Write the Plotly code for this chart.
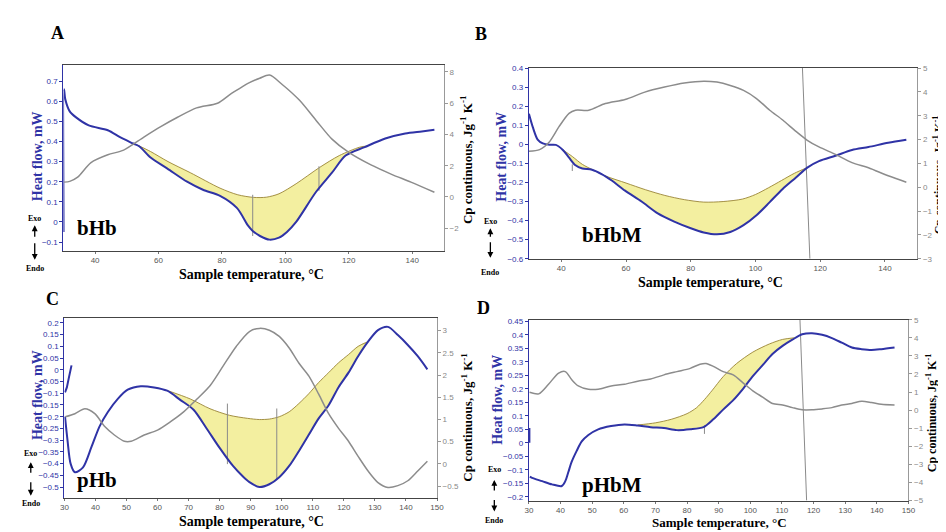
import plotly.graph_objects as go

W, H = 946, 532

# ---------------- A : bHb ----------------
a_temp = [30.05, 30.2, 30.6, 32, 34, 38, 44, 48, 52, 54, 57.5, 62.8, 69, 74, 79.4, 84.7, 88.3, 89.7, 92, 95,
          98, 100.5, 103.4, 109.7, 114.7, 119, 125, 131.5, 137.8, 143, 147]
a_heat = [-0.05, 0.66, 0.61, 0.55, 0.52, 0.48, 0.456, 0.42, 0.39, 0.375, 0.32, 0.265, 0.2, 0.16, 0.13, 0.07,
          -0.02, -0.045, -0.07, -0.088, -0.078, -0.05, 0.0, 0.15, 0.245, 0.33, 0.372, 0.415, 0.44, 0.45, 0.458]
a_cp_temp = [30.2, 32, 34.5, 38.7, 44, 49, 55.5, 60.7, 66, 72, 78.6, 82.8, 86, 88.5, 91.9, 95, 99, 104.4,
             109.7, 114.7, 120, 127, 133.5, 139.6, 147]
a_cp = [0.95, 1.0, 1.27, 2.2, 2.7, 3.0, 3.85, 4.5, 5.1, 5.7, 6.0, 6.6, 7.0, 7.3, 7.6, 7.8, 7.2, 6.2,
        4.9, 3.7, 2.85, 2.05, 1.45, 0.95, 0.3]
a_base_temp = [53, 57.5, 63, 70, 79.4, 85, 90, 94, 98, 103.4, 110.7, 117, 123.5, 126]
a_base_heat = [0.385, 0.35, 0.3, 0.245, 0.168, 0.135, 0.122, 0.123, 0.14, 0.19, 0.27, 0.33, 0.372, 0.378]
a_mark_temp = [89.7, 89.7, None, 110.6, 110.6]
a_mark_heat = [0.135, -0.07, None, 0.277, 0.155]

# ---------------- B : bHbM ----------------
b_temp = [30, 31.2, 32.7, 34.3, 36.3, 38.3, 40.4, 42.4, 44.4, 46.5, 49.5, 52.6, 55.6, 59.7, 64.8, 69.8, 74.9,
          80, 84, 88.1, 92.2, 96.3, 100.3, 104.4, 108.4, 112.5, 116, 119.6, 124.7, 129.8, 134.9, 141, 146.6]
b_heat = [0.16, 0.09, 0.025, 0.005, -0.002, -0.003, -0.028, -0.07, -0.11, -0.127, -0.133, -0.157, -0.19,
          -0.243, -0.30, -0.362, -0.405, -0.44, -0.462, -0.472, -0.46, -0.424, -0.372, -0.303, -0.234,
          -0.174, -0.122, -0.088, -0.06, -0.03, -0.014, 0.008, 0.024]
b_cp_temp = [30, 33.3, 36.3, 39.3, 42.4, 44.4, 48.5, 53.6, 59.7, 65.8, 71.9, 78, 84, 88.1, 92.2, 96.3, 100.3,
             104.4, 108.4, 112.5, 116, 119.6, 124.7, 129.8, 134.9, 141, 146.6]
b_cp = [1.51, 1.58, 1.9, 2.54, 3.1, 3.23, 3.23, 3.51, 3.68, 3.99, 4.2, 4.37, 4.45, 4.41, 4.27, 4.06, 3.72,
        3.23, 2.82, 2.34, 1.97, 1.69, 1.38, 1.03, 0.82, 0.48, 0.21]
b_base_temp = [40.4, 43.5, 46.5, 50, 54, 60, 66, 72, 78, 84, 90, 96, 100, 104, 108, 112, 116]
b_base_heat = [-0.028, -0.065, -0.105, -0.136, -0.168, -0.203, -0.238, -0.268, -0.29, -0.303, -0.3, -0.287,
               -0.263, -0.228, -0.19, -0.152, -0.122]
b_mark_temp = [114.5, 116.8, None, 43.4, 43.4]
b_mark_heat = [0.4, -0.6, None, -0.105, -0.14]

# ---------------- C : pHb ----------------
c_temp = [30.2, 31, 32, 33.4, 36, 38.7, 41.3, 44, 47.2, 50.4, 54.6, 58.9, 63.1, 67.3, 71.6, 75.8, 80, 84.3,
          87.5, 89.6, 92.8, 96, 99.2, 102.4, 105.5, 108.7, 111.9, 115.1, 118.3, 121.5, 124.6, 127.8, 131,
          134.2, 137.4, 140.6, 143.8, 146.9]
c_heat = [-0.2, -0.3, -0.4, -0.437, -0.416, -0.33, -0.242, -0.18, -0.124, -0.085, -0.07, -0.075, -0.089,
          -0.128, -0.17, -0.25, -0.333, -0.41, -0.455, -0.479, -0.5, -0.488, -0.458, -0.41, -0.347, -0.277,
          -0.207, -0.151, -0.074, -0.012, 0.058, 0.12, 0.169, 0.183, 0.148, 0.106, 0.058, 0.002]
c_spike_temp = [30.2, 30.8, 31.5, 32.3]
c_spike_heat = [-0.096, -0.075, -0.03, 0.019]
c_cp_temp = [30.3, 33.4, 36.6, 39.8, 43, 46.1, 49.3, 51.5, 55.7, 60, 64.2, 68.4, 72.7, 76.9, 81.1, 85.4,
             89.6, 92.8, 96, 99.2, 102.4, 105.5, 108.7, 111.9, 115.1, 118.3, 121.5, 124.6, 127.8, 131,
             134.2, 137.4, 140.6, 143.8, 146.9]
c_cp = [1.06, 1.13, 1.24, 1.13, 0.84, 0.65, 0.51, 0.51, 0.65, 0.76, 0.95, 1.17, 1.46, 1.76, 2.2, 2.65,
        2.98, 3.05, 3.01, 2.87, 2.61, 2.27, 1.98, 1.57, 1.13, 0.8, 0.51, 0.17, -0.16, -0.42, -0.53, -0.49,
        -0.38, -0.16, 0.06]
c_base_temp = [63.1, 70.5, 76.9, 83.2, 89, 92.8, 96, 99.2, 102.4, 105.5, 108.7, 111.9, 115.1, 118.3, 121.5,
               124.6, 127.8]
c_base_heat = [-0.088, -0.124, -0.166, -0.194, -0.207, -0.212, -0.21, -0.2, -0.179, -0.144, -0.102, -0.054,
               -0.012, 0.03, 0.065, 0.1, 0.12]
c_mark_temp = [82.5, 82.5, None, 98.4, 98.4]
c_mark_heat = [-0.144, -0.402, None, -0.165, -0.47]

# ---------------- D : pHbM ----------------
d_temp = [30.3, 31, 34.2, 37.3, 40.4, 41.5, 42.5, 43.5, 45.1, 46.7, 48.8, 51.9, 56, 60.2, 64.4, 68.5, 72.7,
          76.8, 81, 85.2, 88.3, 91.4, 94.6, 97.7, 100.8, 103.9, 107, 110.2, 113.3, 116.4, 119.5, 122.7,
          125.8, 128.9, 132.1, 135.2, 138.3, 141.4, 145.6]
d_heat = [-0.125, -0.13, -0.142, -0.154, -0.16, -0.142, -0.107, -0.071, -0.03, 0.005, 0.029, 0.05, 0.062,
          0.068, 0.064, 0.058, 0.055, 0.047, 0.05, 0.058, 0.087, 0.123, 0.158, 0.2, 0.247, 0.288, 0.329,
          0.359, 0.382, 0.402, 0.406, 0.4, 0.388, 0.371, 0.353, 0.347, 0.344, 0.347, 0.353]
d_spike_temp = [30.15, 30.15]
d_spike_heat = [0.055, 0.0]
d_cp_temp = [30.2, 33.1, 36.2, 39.4, 41.5, 43.5, 45.6, 48.8, 51.9, 56, 60.2, 64.4, 68.5, 72.7, 76.8, 81,
             84.1, 86, 88.3, 91.4, 94.6, 97.7, 100.8, 103.9, 107, 110.2, 113.3, 116.4, 119.5, 122.7, 125.8,
             128.9, 132.1, 135.2, 138.3, 141.4, 145.6]
d_cp = [0.99, 0.9, 1.43, 2.05, 2.13, 1.69, 1.34, 1.16, 1.16, 1.34, 1.43, 1.6, 1.72, 1.95, 2.13, 2.31,
        2.54, 2.58, 2.42, 2.13, 1.95, 1.51, 1.07, 0.72, 0.37, 0.28, 0.14, 0.02, 0.02, 0.07, 0.14, 0.28,
        0.37, 0.49, 0.42, 0.32, 0.28]
d_base_temp = [64.4, 70, 75, 80, 83, 85.5, 88, 91.4, 95.6, 100.8, 106, 110.2, 114]
d_base_heat = [0.066, 0.074, 0.087, 0.108, 0.13, 0.16, 0.195, 0.245, 0.293, 0.336, 0.366, 0.383, 0.389]
d_mark_temp = [115.7, 117.8, None, 85.5, 85.5]
d_mark_heat = [0.456, -0.214, None, 0.065, 0.033]

BLUE = '#2f33a6'
GRAY = '#8c8c8c'
SERIF = 'Liberation Serif'
SANS = 'Liberation Sans'

panels = [
    dict(letter='A', label='bHb', box=(52, 54, 437, 243), left=[-0.144, 0.78], right=[-3.45, 8.44],
         ldt=0.1, rdt=2, xdt=20, temp=a_temp, heat=a_heat, cpt=a_cp_temp, cp=a_cp,
         bt=a_base_temp, bh=a_base_heat, mt=a_mark_temp, mh=a_mark_heat, spike=None,
         letter_xy=(46, 21), label_xy=(86, 220), hf_xy=(26, 147), cp_xy=(460, 150), cp_size=13,
         xt_xy=(242, 267), xt_size=14, arrow_x=23, exo_y=210, up=(217, 230), down=(252, 234), endo_y=261),
    dict(letter='B', label='bHbM', box=(523, 57, 916, 251), left=[-0.6, 0.4], right=[-3, 5],
         ldt=0.1, rdt=1, xdt=20, temp=b_temp, heat=b_heat, cpt=b_cp_temp, cp=b_cp,
         bt=b_base_temp, bh=b_base_heat, mt=b_mark_temp, mh=b_mark_heat, spike=None,
         letter_xy=(475, 22), label_xy=(607, 227), hf_xy=(495, 147), cp_xy=(937, 166), cp_size=12,
         xt_xy=(707, 275), xt_size=14, arrow_x=484, exo_y=213, up=(220, 230), down=(250, 233), endo_y=265),
    dict(letter='C', label='pHb', box=(53, 311, 430, 494), left=[-0.545, 0.222], right=[-0.76, 3.29],
         ldt=0.05, rdt=0.5, xdt=10, temp=c_temp, heat=c_heat, cpt=c_cp_temp, cp=c_cp,
         bt=c_base_temp, bh=c_base_heat, mt=c_mark_temp, mh=c_mark_heat,
         spike=(c_spike_temp, c_spike_heat),
         letter_xy=(41, 292), label_xy=(86, 476), hf_xy=(26, 390), cp_xy=(460, 412), cp_size=13,
         xt_xy=(242, 518), xt_size=14, arrow_x=19, exo_y=449, up=(458, 470), down=(492, 477), endo_y=500),
    dict(letter='D', label='pHbM', box=(523, 313, 907, 497), left=[-0.214, 0.456], right=[-5, 5],
         ldt=0.05, rdt=1, xdt=10, temp=d_temp, heat=d_heat, cpt=d_cp_temp, cp=d_cp,
         bt=d_base_temp, bh=d_base_heat, mt=d_mark_temp, mh=d_mark_heat,
         spike=(d_spike_temp, d_spike_heat),
         letter_xy=(477, 301), label_xy=(607, 481), hf_xy=(491, 394), cp_xy=(930, 408), cp_size=12,
         xt_xy=(716, 519), xt_size=13, arrow_x=488, exo_y=465, up=(476, 488), down=(508, 495), endo_y=517),
]


def fx(px):
    return px / W


def fy(py):
    return 1 - py / H


fig = go.Figure()
layout = dict(width=W, height=H, autosize=False, margin=dict(l=0, r=0, t=0, b=0),
              paper_bgcolor='white', plot_bgcolor='white', showlegend=False, hovermode=False)
annotations = []


def txt(xy, text, size, color='black', angle=0, family=SERIF):
    annotations.append(dict(x=fx(xy[0]), y=fy(xy[1]), xref='paper', yref='paper', text=text,
                            showarrow=False, textangle=angle, xanchor='center', yanchor='middle',
                            font=dict(family=family, size=size, color=color)))


for i, p in enumerate(panels, start=1):
    xid = 'x' if i == 1 else f'x{i}'
    yl = 'y' if i == 1 else f'y{2 * i - 1}'
    yr = f'y{2 * i}'
    x0, y0, x1, y1 = p['box']

    layout['xaxis' if i == 1 else f'xaxis{i}'] = dict(
        domain=[fx(x0), fx(x1)], anchor=yl, range=[30, 150], dtick=p['xdt'],
        showgrid=False, zeroline=False, showline=True, linecolor='#444', linewidth=1, mirror=True,
        ticks='outside', ticklen=2, tickcolor='#777', tickfont=dict(family=SANS, size=8, color='#555'))
    layout['yaxis' if i == 1 else f'yaxis{2 * i - 1}'] = dict(
        domain=[fy(y1), fy(y0)], anchor=xid, range=p['left'], dtick=p['ldt'],
        showgrid=False, zeroline=False, showline=True, linecolor=BLUE, linewidth=1.2,
        ticks='outside', ticklen=3, tickcolor=BLUE, tickfont=dict(family=SANS, size=8, color=BLUE))
    layout[f'yaxis{2 * i}'] = dict(
        overlaying=yl, side='right', anchor=xid, range=p['right'], dtick=p['rdt'],
        showgrid=False, zeroline=False, showline=True, linecolor='#999', linewidth=1,
        ticks='outside', ticklen=3, tickcolor='#999', tickfont=dict(family=SANS, size=8, color='#888'))

    # yellow area between baseline and curve
    inner = [(t, v) for t, v in zip(p['temp'], p['heat']) if p['bt'][0] < t < p['bt'][-1]]
    fill_x = list(p['bt']) + [t for t, _ in reversed(inner)]
    fill_y = list(p['bh']) + [v for _, v in reversed(inner)]
    fig.add_trace(go.Scatter(x=fill_x, y=fill_y, xaxis=xid, yaxis=yl, mode='lines', fill='toself',
                             fillcolor='#f3efa0', line=dict(width=0, shape='spline', smoothing=0.8)))
    fig.add_trace(go.Scatter(x=p['bt'], y=p['bh'], xaxis=xid, yaxis=yl, mode='lines',
                             line=dict(color='#9a8536', width=0.9, shape='spline', smoothing=0.8)))
    fig.add_trace(go.Scatter(x=p['mt'], y=p['mh'], xaxis=xid, yaxis=yl, mode='lines',
                             line=dict(color='#8a8a8a', width=1)))
    fig.add_trace(go.Scatter(x=p['temp'], y=p['heat'], xaxis=xid, yaxis=yl, mode='lines',
                             line=dict(color=BLUE, width=2, shape='spline', smoothing=0.8)))
    if p['spike']:
        fig.add_trace(go.Scatter(x=p['spike'][0], y=p['spike'][1], xaxis=xid, yaxis=yl, mode='lines',
                                 line=dict(color=BLUE, width=2)))
    fig.add_trace(go.Scatter(x=p['cpt'], y=p['cp'], xaxis=xid, yaxis=yr, mode='lines',
                             line=dict(color=GRAY, width=1.5, shape='spline', smoothing=0.8)))

    txt(p['letter_xy'], '<b>' + p['letter'] + '</b>', 18)
    txt(p['label_xy'], '<b>' + p['label'] + '</b>', 21)
    txt(p['hf_xy'], '<b>Heat flow, mW</b>', 14, color=BLUE, angle=-90)
    txt(p['cp_xy'], '<b>Cp continuous, Jg<sup>-1</sup> K<sup>-1</sup></b>', p['cp_size'], angle=-90)
    txt(p['xt_xy'], '<b>Sample temperature, °C</b>', p['xt_size'])
    txt((p['arrow_x'], p['exo_y']), '<b>Exo</b>', 8)
    txt((p['arrow_x'], p['endo_y']), '<b>Endo</b>', 8)
    for head, tail in [(p['up'][0], p['up'][1]), (p['down'][0], p['down'][1])]:
        annotations.append(dict(x=fx(p['arrow_x']), y=fy(head), xref='paper', yref='paper', text='',
                                showarrow=True, ax=0, ay=tail - head, arrowhead=2, arrowsize=0.9,
                                arrowwidth=1.3, arrowcolor='black'))

layout['annotations'] = annotations
fig.update_layout(**layout)
fig.write_html("out.html")
